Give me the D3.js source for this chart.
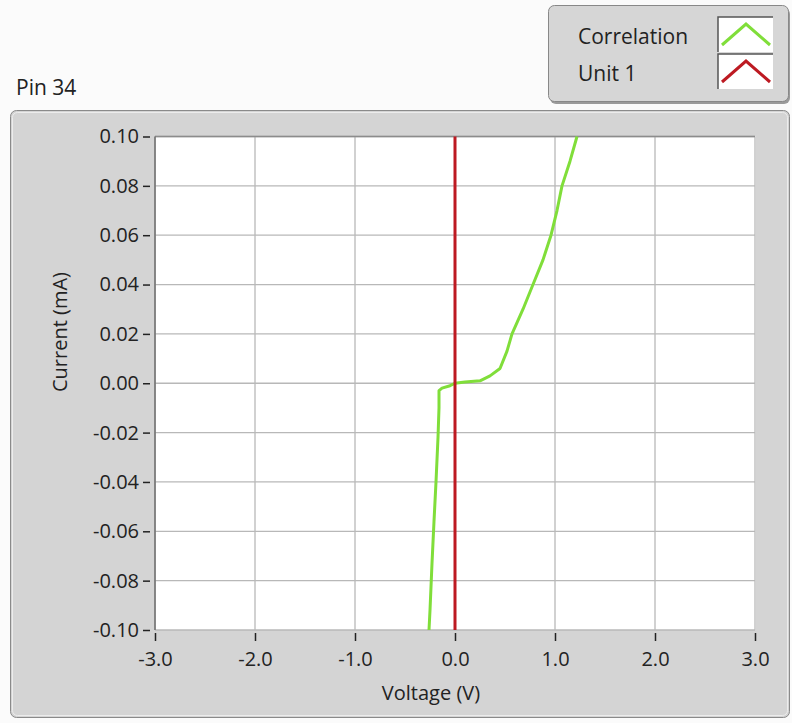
<!DOCTYPE html>
<html><head><meta charset="utf-8">
<script src="https://cdn.jsdelivr.net/npm/d3@7"></script>
<style>
html,body{margin:0;padding:0;background:#fbfbfb;}
svg{display:block;font-family:"Open Sans",sans-serif;}
</style></head>
<body><svg id="c" width="792" height="723"></svg>
<script>
const xTicks = [-3.0,-2.0,-1.0,0.0,1.0,2.0,3.0];
const yTicks = [-0.10,-0.08,-0.06,-0.04,-0.02,0.00,0.02,0.04,0.06,0.08,0.10];
const seriesNames = ["Correlation","Unit 1"];
const seriesColors = ["#80de3a","#bd1a22"];
const correlationV = [-0.26,-0.25,-0.23,-0.21,-0.19,-0.17,-0.16,-0.16,-0.13,-0.05,0.00,0.10,0.25,0.35,0.45,0.52,0.57,0.68,0.78,0.88,0.96,1.02,1.07,1.15,1.22];
const correlationI = [-0.100,-0.092,-0.073,-0.056,-0.040,-0.022,-0.010,-0.003,-0.002,-0.001,0.000,0.0005,0.001,0.003,0.006,0.013,0.020,0.030,0.040,0.050,0.060,0.070,0.080,0.090,0.100];
const unit1V = [0.00,0.00,0.00];
const unit1I = [-0.100,0.000,0.100];

const svg = d3.select("#c");
const L=155,R=755,T=136.5,B=630;
const x = d3.scaleLinear().domain([-3,3]).range([L,R]);
const y = d3.scaleLinear().domain([-0.1,0.1]).range([B,T]);
const hy = f => d => f(d).replace("\u2212","-");

// title
svg.append("text").attr("x",16).attr("y",95).attr("font-size",21).attr("fill","#222").text("Pin 34");

// panel
svg.append("rect").attr("x",10.5).attr("y",110.5).attr("width",779).attr("height",607).attr("rx",6)
  .attr("fill","#d4d4d4").attr("stroke","#8a8a8a");
svg.append("rect").attr("x",12.5).attr("y",112.5).attr("width",775).attr("height",603).attr("rx",5)
  .attr("fill","none").attr("stroke","#ececec");

// plot bg
svg.append("rect").attr("x",L).attr("y",T).attr("width",R-L+1).attr("height",B-T).attr("fill","#ffffff");

// grid
svg.append("g").selectAll("line").data(xTicks).join("line")
  .attr("x1",d=>x(d)).attr("x2",d=>x(d)).attr("y1",T).attr("y2",B)
  .attr("stroke","#b8b8b8").attr("stroke-width",1.3);
svg.append("g").selectAll("line").data(yTicks).join("line")
  .attr("x1",L).attr("x2",R).attr("y1",d=>y(d)).attr("y2",d=>y(d))
  .attr("stroke","#b8b8b8").attr("stroke-width",1.3);
// plot border top/left
svg.append("line").attr("x1",L).attr("x2",R).attr("y1",T).attr("y2",T).attr("stroke","#8c8c8c").attr("stroke-width",1.5);
svg.append("line").attr("x1",L).attr("x2",L).attr("y1",T).attr("y2",B).attr("stroke","#6e6e6e").attr("stroke-width",1.5);

// axes
const ax = svg.append("g").attr("transform",`translate(0,${B+3})`)
  .call(d3.axisBottom(x).tickValues(xTicks).tickSize(8).tickPadding(7).tickFormat(hy(d3.format(".1f"))));
const ay = svg.append("g").attr("transform",`translate(${L-5},0)`)
  .call(d3.axisLeft(y).tickValues(yTicks).tickSize(7).tickPadding(4).tickFormat(hy(d3.format(".2f"))));
[ax,ay].forEach(a=>{
  a.select(".domain").remove();
  a.selectAll(".tick line").attr("stroke","#222").attr("stroke-width",1.5);
  a.selectAll(".tick text").attr("fill","#222").attr("font-size",20).attr("font-family","Open Sans");
});
ax.selectAll(".tick text").attr("dy","0.9em");

svg.append("text").attr("x",431).attr("y",700).attr("text-anchor","middle").attr("font-size",20).attr("fill","#222").text("Voltage (V)");
svg.append("text").attr("transform",`translate(67,332) rotate(-90)`).attr("text-anchor","middle").attr("font-size",20).attr("fill","#222").text("Current (mA)");

// lines
const line = d3.line().x(d=>x(d[0])).y(d=>y(d[1]));
const corr = correlationV.map((v,i)=>[v,correlationI[i]]);
const unit = unit1V.map((v,i)=>[v,unit1I[i]]);
svg.append("path").datum(corr).attr("d",line).attr("fill","none").attr("stroke",seriesColors[0]).attr("stroke-width",3).attr("stroke-linejoin","round");
svg.append("path").datum(unit).attr("d",line).attr("fill","none").attr("stroke",seriesColors[1]).attr("stroke-width",3);

// legend
svg.append("rect").attr("x",550).attr("y",8).attr("width",240).attr("height",96).attr("rx",6).attr("fill","#9a9a9a");
svg.append("rect").attr("x",548.5).attr("y",5.5).attr("width",240).attr("height",96).attr("rx",6)
  .attr("fill","#d6d6d6").attr("stroke","#888");
const lg = svg.append("g").selectAll("g").data(seriesNames).join("g")
  .attr("transform",(d,i)=>`translate(0,${i*37})`);
lg.append("text").attr("x",578).attr("y",44).attr("font-size",21).attr("fill","#222").text(d=>d);
lg.append("rect").attr("x",718).attr("y",17).attr("width",55).attr("height",35).attr("fill","#ffffff");
lg.append("path").attr("d","M718,52 V17 H773").attr("fill","none").attr("stroke","#555").attr("stroke-width",1.5);
lg.append("path").attr("d","M722,45 L746,24 L770,45").attr("fill","none")
  .attr("stroke",(d,i)=>seriesColors[i]).attr("stroke-width",3);
</script></body></html>
